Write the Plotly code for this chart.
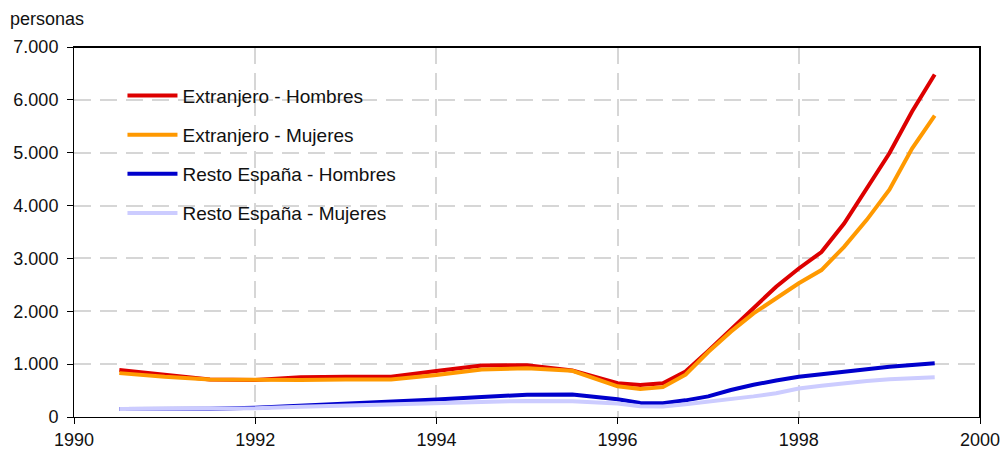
import plotly.graph_objects as go

years = [1990.5, 1991, 1991.5, 1992, 1992.5, 1993, 1993.5, 1994, 1994.5, 1995, 1995.5,
         1996, 1996.25, 1996.5, 1996.75, 1997, 1997.25, 1997.5, 1997.75, 1998, 1998.25,
         1998.5, 1998.75, 1999, 1999.25, 1999.5]

ext_hombres = [890, 800, 710, 700, 750, 760, 760, 870, 975, 980, 880,
               640, 605, 640, 860, 1250, 1650, 2050, 2465, 2810, 3120,
               3660, 4320, 4990, 5780, 6480]
ext_mujeres = [830, 760, 710, 700, 700, 710, 710, 795, 900, 920, 875,
               580, 530, 565, 800, 1230, 1615, 1960, 2245, 2530, 2780,
               3220, 3730, 4300, 5080, 5700]
resto_hombres = [150, 150, 155, 175, 210, 250, 290, 330, 380, 420, 425,
                 335, 265, 260, 315, 390, 510, 610, 690, 760, 810,
                 860, 910, 950, 985, 1015]
resto_mujeres = [150, 150, 150, 165, 195, 220, 240, 258, 278, 305, 300,
                 255, 205, 200, 240, 285, 335, 390, 450, 540, 590,
                 640, 680, 715, 735, 750]

series = [
    ("Extranjero - Hombres", ext_hombres, "#DD0000"),
    ("Extranjero - Mujeres", ext_mujeres, "#FF9900"),
    ("Resto España - Hombres", resto_hombres, "#0000CC"),
    ("Resto España - Mujeres", resto_mujeres, "#CCCCFF"),
]

x_ticks = [1990, 1992, 1994, 1996, 1998, 2000]
y_ticks = [0, 1000, 2000, 3000, 4000, 5000, 6000, 7000]

FAM = "Liberation Sans, Arial, sans-serif"
TXT = "#111111"
FS = 18

fig = go.Figure()
for i, (name, vals, color) in enumerate(series):
    fig.add_trace(go.Scatter(x=years, y=vals, mode="lines", name=name,
                             legendgroup=f"g{i}",
                             line=dict(color=color, width=4)))

fig.update_layout(
    width=1004, height=452,
    margin=dict(l=74, r=24, t=47, b=35),
    paper_bgcolor="white", plot_bgcolor="white",
    separators=",.",
    font=dict(family=FAM, size=FS, color=TXT),
    showlegend=True,
    legend=dict(x=0.0535, y=0.92, xanchor="left", yanchor="top",
                bgcolor="rgba(0,0,0,0)", font=dict(family=FAM, size=19, color=TXT),
                tracegroupgap=11.5, itemwidth=50),
    xaxis=dict(range=[1990, 2000], tickvals=x_ticks, ticktext=[str(t) for t in x_ticks],
               showgrid=True, gridcolor="#D6D6D6", gridwidth=2, griddash="17px,9px",
               showline=True, linecolor="black", linewidth=1, mirror=True,
               ticks="outside", ticklen=6, tickcolor="black", zeroline=False,
               automargin=False,
               tickfont=dict(family=FAM, size=FS, color=TXT)),
    yaxis=dict(range=[0, 7000], tickvals=y_ticks, tickformat=",d",
               showgrid=True, gridcolor="#D6D6D6", gridwidth=2, griddash="17px,9px",
               showline=True, linecolor="black", linewidth=1, mirror=True,
               ticks="outside", ticklen=6, tickcolor="black", zeroline=False,
               automargin=False, ticklabelstandoff=5,
               tickfont=dict(family=FAM, size=FS, color=TXT)),
    annotations=[dict(text="personas", xref="paper", yref="paper", x=-0.073, y=1.043,
                      xanchor="left", yanchor="bottom", showarrow=False,
                      font=dict(family=FAM, size=FS, color=TXT))],
    shapes=[
        dict(type="line", xref="paper", yref="paper", x0=0, x1=1, y0=1, y1=1,
             line=dict(color="black", width=2)),
        dict(type="line", xref="paper", yref="paper", x0=1, x1=1, y0=0, y1=1,
             line=dict(color="black", width=2)),
    ],
)

fig.write_html("out.html", config={"displayModeBar": False},
               post_script="document.body.style.margin='0';document.body.style.padding='0';")
